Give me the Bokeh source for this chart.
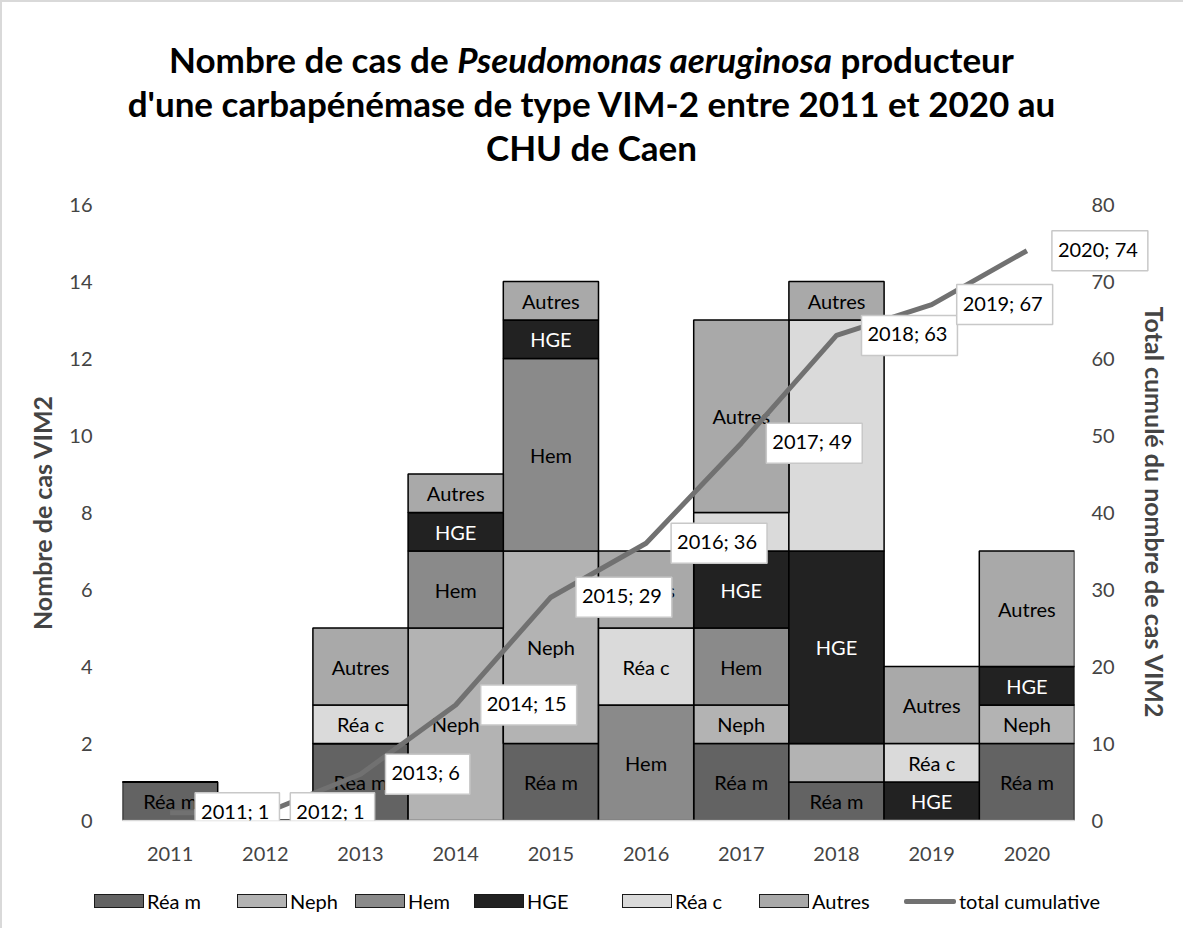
import numpy as np
from bokeh.plotting import figure
from bokeh.models import (ColumnDataSource, Range1d, LinearAxis, FixedTicker,
                          Label, Div)
from bokeh.layouts import column
from bokeh.core.properties import value
from bokeh.embed import file_html
from bokeh.resources import INLINE

years = ["2011", "2012", "2013", "2014", "2015", "2016", "2017", "2018", "2019", "2020"]
series = ["Réa m", "Neph", "Hem", "HGE", "Réa c", "Autres"]
rea_m  = [1, 0, 2, 0, 2, 0, 2, 1, 0, 2]
neph   = [0, 0, 0, 5, 5, 0, 1, 1, 0, 1]
hem    = [0, 0, 0, 2, 5, 3, 2, 0, 0, 0]
hge    = [0, 0, 0, 1, 1, 0, 2, 5, 1, 1]
rea_c  = [0, 0, 1, 0, 0, 2, 1, 6, 1, 0]
autres = [0, 0, 2, 1, 1, 2, 5, 1, 2, 3]
total_cumulative = [1, 1, 6, 15, 29, 36, 49, 63, 67, 74]
hidden_labels = [("Neph", "2018")]
line_name = "total cumulative"

left_ticks = [0, 2, 4, 6, 8, 10, 12, 14, 16]
right_ticks = [0, 10, 20, 30, 40, 50, 60, 70, 80]

colors = ["#636363", "#b3b3b3", "#8a8a8a", "#222222", "#dadada", "#a9a9a9"]
text_colors = ["black", "black", "black", "white", "black", "black"]
LINE_COLOR = "#717171"
FONT = "Lato"

values = [rea_m, neph, hem, hge, rea_c, autres]
xpos = [i + 0.5 for i in range(len(years))]
data = {"x": xpos, "year": years}
for name, vals in zip(series, values):
    data[name] = vals
source = ColumnDataSource(data)

W = 1173
DIV_H = 154
LEG_H = 44

p = figure(frame_width=952, frame_height=616, output_backend="svg",
           toolbar_location=None,
           x_range=Range1d(0, len(years)), y_range=Range1d(0, 16),
           min_border_left=122, min_border_right=99, min_border_top=40,
           min_border_bottom=54)
p.border_fill_color = None
p.background_fill_color = "white"
p.outline_line_color = None
p.grid.visible = False
p.extra_y_ranges = {"cum": Range1d(0, 80)}

bars = p.vbar_stack(series, x="x", width=1.0, color=colors, source=source,
                    line_color="black", line_width=1.5)

# segment labels
lx, ly, lt, lc = [], [], [], []
bottoms = np.zeros(len(years))
for name, vals, tc in zip(series, values, text_colors):
    arr = np.array(vals, dtype=float)
    for i, v in enumerate(arr):
        if v > 0 and (name, years[i]) not in hidden_labels:
            lx.append(xpos[i])
            ly.append(bottoms[i] + v / 2)
            lt.append(name)
            lc.append(tc)
    bottoms += arr
p.text(x=lx, y=ly, text=lt, text_color=lc, text_align="center",
       text_baseline="middle", text_font=value(FONT), text_font_size="20px")

line = p.line(xpos, total_cumulative, y_range_name="cum", line_color=LINE_COLOR,
              line_width=5)

n = len(years)
for i, (yr, c) in enumerate(zip(years, total_cumulative)):
    lab = Label(x=xpos[i], y=c, y_range_name="cum", text=f"{yr}; {c}",
                x_offset=25, text_align="left", text_baseline="middle",
                text_font=FONT, text_font_size="20px", text_color="black",
                background_fill_color="white",
                border_line_color="#c8c8c8", border_line_width=1.5,
                padding=(6, 10, 6, 10))
    # the last callout reaches past the plot frame: lay it in a side panel
    p.add_layout(lab, "above" if i == n - 1 else "center")

# axes
xa = p.xaxis[0]
xa.ticker = FixedTicker(ticks=xpos)
xa.major_label_overrides = {x: y for x, y in zip(xpos, years)}
xa.axis_line_color = "#d9d9d9"
xa.axis_line_width = 1.5
xa.major_tick_line_color = None
xa.minor_tick_line_color = None
xa.major_label_text_font = FONT
xa.major_label_text_font_size = "20px"
xa.major_label_standoff = 20

ya = p.yaxis[0]
ya.ticker = FixedTicker(ticks=left_ticks)
ya.axis_line_color = None
ya.major_tick_line_color = None
ya.minor_tick_line_color = None
ya.major_label_text_font = FONT
ya.major_label_text_font_size = "20px"
ya.major_label_standoff = 24
ya.axis_label = "Nombre de cas VIM2"
ya.axis_label_text_font = FONT
ya.axis_label_text_font_style = "bold"
ya.axis_label_text_font_size = "25px"
ya.axis_label_standoff = 9

ra = LinearAxis(y_range_name="cum", ticker=FixedTicker(ticks=right_ticks))
ra.axis_line_color = None
ra.major_tick_line_color = None
ra.minor_tick_line_color = None
ra.major_label_text_font = FONT
ra.major_label_text_font_size = "20px"
ra.major_label_standoff = 11
ra.axis_label = "Total cumulé du nombre de cas VIM2"
ra.axis_label_text_font = FONT
ra.axis_label_text_font_style = "bold"
ra.axis_label_text_font_size = "25px"
ra.axis_label_standoff = 22
p.add_layout(ra, "right")

# legend strip (HTML, below the plot)
leg_left = [89, 232, 350, 469, 617, 754, 899]
parts = []
for k, (s, c) in enumerate(zip(series, colors)):
    parts.append(
        '<div style="position:absolute; left:%dpx; top:10px; height:24px; '
        'display:flex; align-items:center; white-space:nowrap;">'
        '<span style="display:inline-block; width:50px; height:14px; '
        'background:%s; border:1px solid #1a1a1a; margin-right:3px;"></span>%s</div>'
        % (leg_left[k], c, s))
parts.append(
    '<div style="position:absolute; left:%dpx; top:10px; height:24px; '
    'display:flex; align-items:center; white-space:nowrap;">'
    '<span style="display:inline-block; width:52px; height:5px; '
    'background:%s; border-radius:2px; margin-right:3px;"></span>%s</div>'
    % (leg_left[-1], LINE_COLOR, line_name))
legend_html = ('<div style="position:relative; width:%dpx; height:%dpx; '
               'font-family:Lato; font-size:20px; color:#000;">%s</div>'
               % (W, LEG_H, "".join(parts)))
legend_div = Div(text=legend_html, width=W, height=LEG_H)

title_html = ('<div style="font-family:Lato; font-weight:bold; font-size:35px; '
              'line-height:44px; text-align:center; width:%dpx; padding-top:32px; '
              'color:#000;">Nombre de cas de <i>Pseudomonas aeruginosa</i> producteur<br>'
              "d'une carbapénémase de type VIM-2 entre 2011 et 2020 au<br>"
              'CHU de Caen</div>') % W
div = Div(text=title_html, width=W, height=DIV_H)

layout = column(div, p, legend_div, styles={"box-shadow": "inset 2px 2px 0 #d9d9d9"})
open("out.html", "w").write(file_html(layout, INLINE))
